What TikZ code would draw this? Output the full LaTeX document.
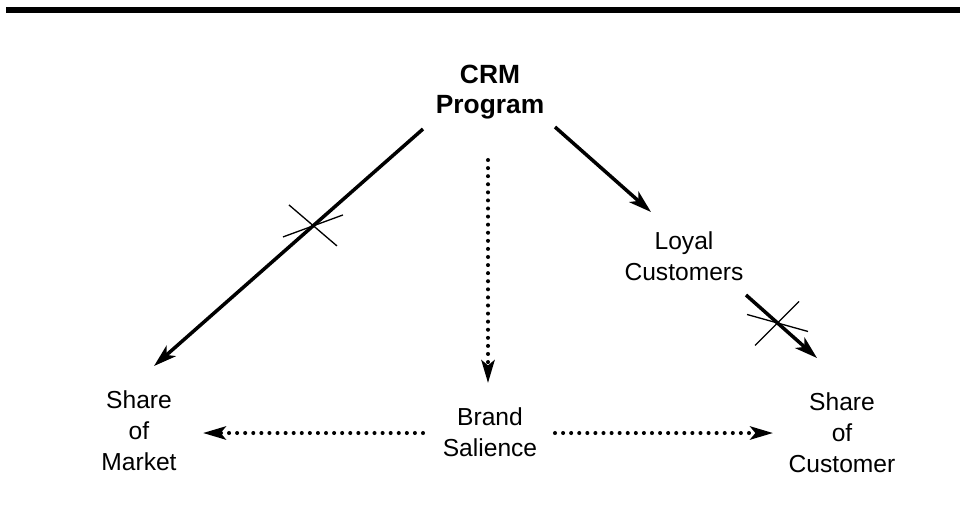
\documentclass[tikz,border=0pt]{standalone}
\usepackage{fontspec}
\setmainfont{Liberation Sans}
\usetikzlibrary{arrows.meta,positioning}

\begin{document}
\begin{tikzpicture}[
  x=0.02cm, y=-0.02cm,
  txt/.style={align=center, inner sep=0pt, font=\fontsize{14}{17.6}\selectfont},
  head/.style={align=center, inner sep=0pt, font=\fontsize{15}{17}\selectfont\bfseries},
  heavy/.style={line width=2pt, -{Stealth[length=13pt, width=8pt, inset=3.5pt]}},
  dots/.style={line width=2.3pt, line cap=round, dash pattern=on 0pt off 4.6pt,
    -{Stealth[length=13pt, width=7.5pt, inset=3pt]}},
  cut/.style={line width=0.75pt}
]
  \useasboundingbox (0,0) rectangle (960,529);
  \fill (6,7) rectangle (960,13);

  \node[head] (crm)   at (490,92)  {CRM\\Program};
  \node[txt]  (loyal) at (684,256) {Loyal\\Customers};
  \node[txt]  (som)   at (139,431) {Share\\of\\Market};
  \node[txt]  (brand) at (490,432) {Brand\\Salience};
  \node[txt]  (soc)   at (842,433) {Share\\of\\Customer};

  % solid links, two of them struck through
  \draw[heavy] ([shift={(-67,37)}]crm.center) -- coordinate[pos=0.409] (xl)
    ([shift={(15,-65)}]som.center);
  \draw[heavy] ([shift={(65,35)}]crm.center) -- ([shift={(-33,-44)}]loyal.center);
  \draw[heavy] ([shift={(62,39)}]loyal.center) -- coordinate[pos=0.444] (xr)
    ([shift={(-25,-75)}]soc.center);
  \draw[cut] ([shift={(-24,-21)}]xl) -- ([shift={(24,20)}]xl);
  \draw[cut] ([shift={(-30,11)}]xl) -- ([shift={(30,-11)}]xl);
  \draw[cut] ([shift={(-30.5,-8.5)}]xr) -- ([shift={(30.5,8.5)}]xr);
  \draw[cut] ([shift={(21.5,-21.5)}]xr) -- ([shift={(-22.5,22.5)}]xr);

  % dotted links through brand salience
  \draw[dots] ([shift={(-2,68)}]crm.center) -- ([shift={(-2,-49)}]brand.center);
  \draw[dots] ([shift={(-67,1)}]brand.center) -- ([shift={(64,2)}]som.center);
  \draw[dots] ([shift={(65,1)}]brand.center) -- ([shift={(-69,0)}]soc.center);
\end{tikzpicture}
\end{document}
